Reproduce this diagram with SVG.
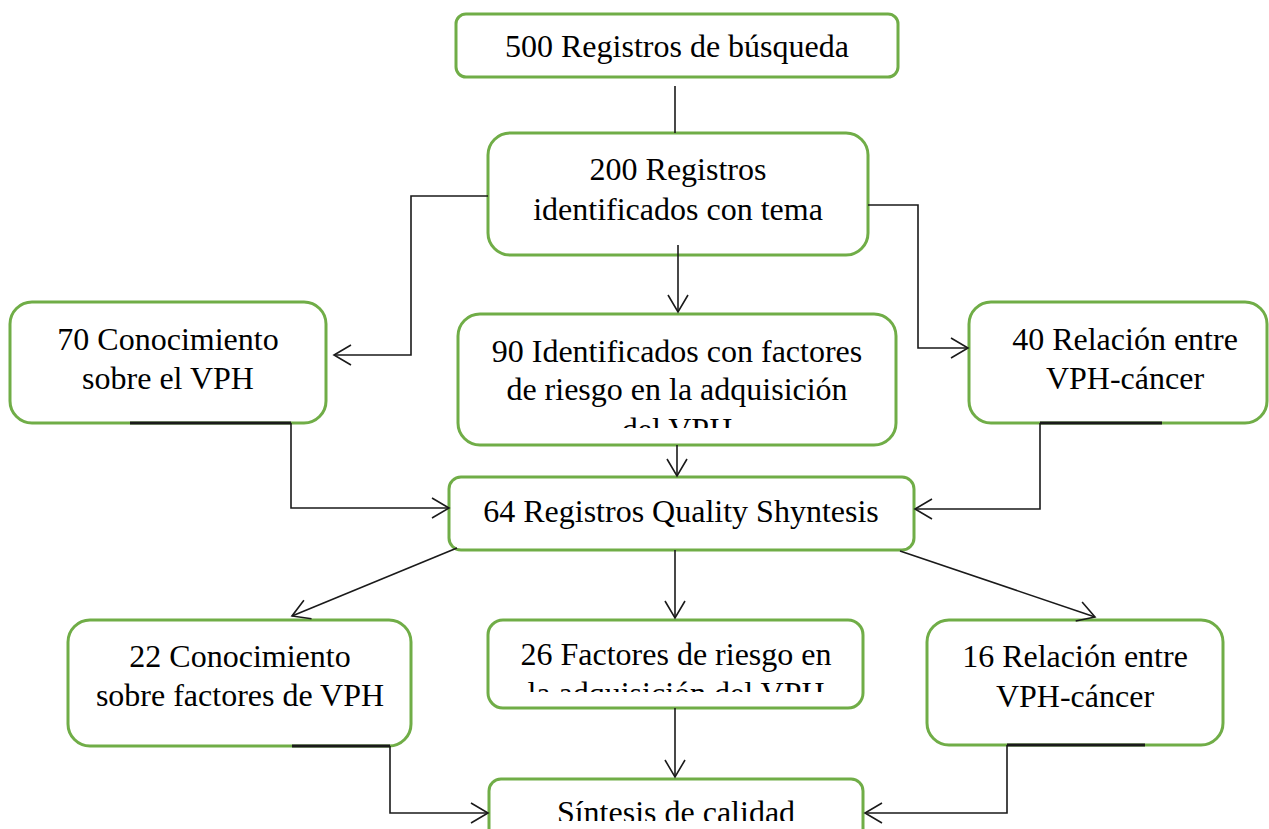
<svg xmlns="http://www.w3.org/2000/svg" width="1269" height="829" viewBox="0 0 1269 829">
<style>
.box{fill:#fff;stroke:#70AD47;stroke-width:3}
.t{font-family:"Liberation Serif","Times New Roman",serif;font-size:32px;fill:#000;text-anchor:middle}
.c{fill:none;stroke:#1a1a1a;stroke-width:1.6}
.seg{fill:none;stroke:#1a1a1a;stroke-width:3}
</style>
<defs>
<marker id="arr" markerUnits="userSpaceOnUse" markerWidth="20" markerHeight="22" viewBox="0 0 20 22" refX="18" refY="11" orient="auto">
<path d="M1,1 L18,11 L1,21" fill="none" stroke="#1a1a1a" stroke-width="1.6"/>
</marker>
<clipPath id="clip90"><rect x="458" y="314" width="438" height="114"/></clipPath>
<clipPath id="clip26"><rect x="488" y="620" width="375" height="72"/></clipPath>
<clipPath id="clipS"><rect x="489" y="779" width="374" height="42"/></clipPath>
</defs>
<g id="n500">
<rect class="box" x="456" y="14" width="442" height="63" rx="10"/>
<text class="t" x="677" y="57">500 Registros de búsqueda</text>
</g>
<g id="n200">
<rect class="box" x="488" y="133" width="380" height="122" rx="22"/>
<text class="t" x="678" y="180">200 Registros</text>
<text class="t" x="678" y="220">identificados con tema</text>
</g>
<g id="n70">
<rect class="box" x="10" y="302" width="316" height="121" rx="22"/>
<text class="t" x="168" y="350">70 Conocimiento</text>
<text class="t" x="168" y="389">sobre el VPH</text>
</g>
<g id="n90">
<rect class="box" x="458" y="314" width="438" height="131" rx="22"/>
<text class="t" x="677" y="362">90 Identificados con factores</text>
<text class="t" x="677" y="400">de riesgo en la adquisición</text>
<text class="t" x="677" y="440" clip-path="url(#clip90)">del VPH</text>
</g>
<g id="n40">
<rect class="box" x="969" y="302" width="298" height="121" rx="22"/>
<text class="t" x="1125" y="350">40 Relación entre</text>
<text class="t" x="1125" y="389">VPH-cáncer</text>
</g>
<g id="n64">
<rect class="box" x="449" y="477" width="465" height="73" rx="12"/>
<text class="t" x="681" y="522">64 Registros Quality Shyntesis</text>
</g>
<g id="n22">
<rect class="box" x="68" y="620" width="343" height="126" rx="22"/>
<text class="t" x="240" y="667">22 Conocimiento</text>
<text class="t" x="240" y="706">sobre factores de VPH</text>
</g>
<g id="n26">
<rect class="box" x="488" y="620" width="375" height="88" rx="15"/>
<text class="t" x="676" y="665">26 Factores de riesgo en</text>
<text class="t" x="676" y="704" clip-path="url(#clip26)">la adquisición del VPH</text>
</g>
<g id="n16">
<rect class="box" x="927" y="620" width="296" height="125" rx="22"/>
<text class="t" x="1075" y="667">16 Relación entre</text>
<text class="t" x="1075" y="707">VPH-cáncer</text>
</g>
<g id="nSintesis">
<rect class="box" x="489" y="779" width="374" height="70" rx="12"/>
<text class="t" x="676" y="823" clip-path="url(#clipS)">Síntesis de calidad</text>
</g>
<g id="connectors">
<path class="c" d="M675,86 L675,133"/>
<path class="c" d="M488,196 L411,196 L411,355 L334,355" marker-end="url(#arr)"/>
<path class="c" d="M678,245 L678,312" marker-end="url(#arr)"/>
<path class="c" d="M868,205 L918,205 L918,348 L968,348" marker-end="url(#arr)"/>
<path class="seg" d="M130,423 L291,423"/>
<path class="c" d="M291,423 L291,508 L449,508" marker-end="url(#arr)"/>
<path class="c" d="M677,445 L677,476" marker-end="url(#arr)"/>
<path class="seg" d="M1162,423 L1040,423"/>
<path class="c" d="M1040,423 L1040,509 L915,509" marker-end="url(#arr)"/>
<path class="c" d="M457,548 L292,616" marker-end="url(#arr)"/>
<path class="c" d="M675,550 L675,618" marker-end="url(#arr)"/>
<path class="c" d="M900,551 L1095,617" marker-end="url(#arr)"/>
<path class="seg" d="M292,746 L390,746"/>
<path class="c" d="M390,746 L390,813 L488,813" marker-end="url(#arr)"/>
<path class="c" d="M675,708 L675,777" marker-end="url(#arr)"/>
<path class="seg" d="M1145,745 L1007,745"/>
<path class="c" d="M1007,745 L1007,813 L865,813" marker-end="url(#arr)"/>
</g>
</svg>
